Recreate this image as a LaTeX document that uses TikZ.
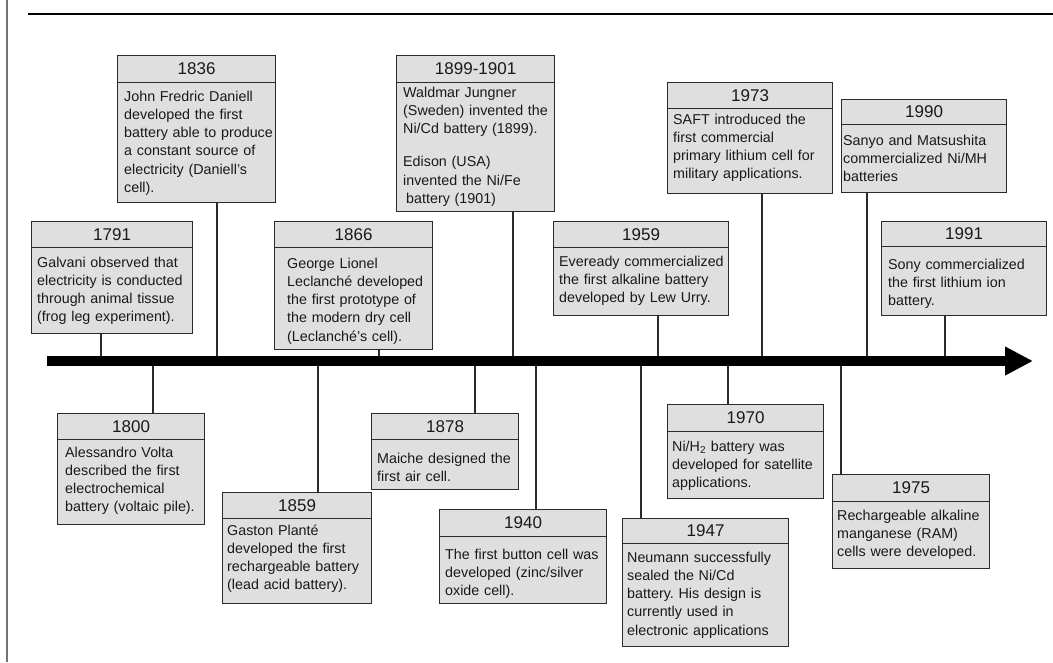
\documentclass[tikz,border=0pt]{standalone}
\usepackage{fontspec}
\setmainfont{Liberation Sans}
\usetikzlibrary{arrows.meta}

\definecolor{cardfill}{HTML}{DFDFDF}
\definecolor{cardedge}{HTML}{2B2B2B}
\frenchspacing

\begin{document}
\begin{tikzpicture}[
    x=1pt, y=-1pt,
    card/.style={draw=cardedge, fill=cardfill, line width=1.2pt, anchor=north west, inner sep=0pt},
    yearbar/.style={draw=cardedge, fill=cardfill, line width=1.2pt, anchor=north, minimum height=26pt, inner sep=0pt, text=black!90, font=\fontsize{17}{18}\selectfont},
    desc/.style={anchor=base west, inner sep=0pt, text width=170pt, align=left, text=black!90, font=\fontsize{14.3}{18.3}\selectfont},
    riser/.style={draw=cardedge, line width=1.2pt},
    timeline/.style={line width=10pt, -{Triangle[length=28pt, width=27pt]}}
]
\useasboundingbox (0,0) rectangle (1053,662);
% page rules
\draw[black!55, line width=2pt] (6.5,0) -- (6.5,662);
\draw[line width=1.5pt] (28,14) -- (1053,14);

% events above the line
\node[card, minimum width=161pt, minimum height=112pt] (e1791) at (31,221) {};
\node[yearbar, minimum width=161pt] (y1791) at (e1791.north) {1791};
\node[desc] (d1791) at (37,267) {Galvani observed that\\electricity is conducted\\through animal tissue\\(frog leg experiment).};

\node[card, minimum width=158pt, minimum height=147pt] (e1836) at (117,55) {};
\node[yearbar, minimum width=158pt, minimum height=27pt] (y1836) at (e1836.north) {1836};
\node[desc] (d1836) at (124,101) {John Fredric Daniell\\developed the first\\battery able to produce\\a constant source of\\electricity (Daniell’s\\cell).};

\node[card, minimum width=158pt, minimum height=128pt] (e1866) at (274,221) {};
\node[yearbar, minimum width=158pt] (y1866) at (e1866.north) {1866};
\node[desc] (d1866) at (287,268) {George Lionel\\Leclanché developed\\the first prototype of\\the modern dry cell\\(Leclanché’s cell).};

\node[card, minimum width=158pt, minimum height=156pt] (e1899) at (396,55) {};
\node[yearbar, minimum width=158pt, minimum height=27pt] (y1899) at (e1899.north) {1899-1901};
\node[desc] (d1899) at (403,97) {Waldmar Jungner\\(Sweden) invented the\\Ni/Cd battery (1899).\\[15pt]Edison (USA)\\invented the Ni/Fe\\\hspace*{3pt}battery (1901)};

\node[card, minimum width=175pt, minimum height=94pt] (e1959) at (553,221) {};
\node[yearbar, minimum width=175pt] (y1959) at (e1959.north) {1959};
\node[desc] (d1959) at (559,266) {Eveready commercialized\\the first alkaline battery\\developed by Lew Urry.};

\node[card, minimum width=165pt, minimum height=111pt] (e1973) at (667,82) {};
\node[yearbar, minimum width=165pt] (y1973) at (e1973.north) {1973};
\node[desc] (d1973) at (673,124) {SAFT introduced the\\first commercial\\primary lithium cell for\\military applications.};

\node[card, minimum width=165pt, minimum height=93pt] (e1990) at (841,99) {};
\node[yearbar, minimum width=165pt, minimum height=25pt] (y1990) at (e1990.north) {1990};
\node[desc] (d1990) at (843,145) {Sanyo and Matsushita\\commercialized Ni/MH\\batteries};

\node[card, minimum width=165pt, minimum height=94pt] (e1991) at (881,221) {};
\node[yearbar, minimum width=165pt, minimum height=25pt] (y1991) at (e1991.north) {1991};
\node[desc] (d1991) at (888,269) {Sony commercialized\\the first lithium ion\\battery.};

% events below the line
\node[card, minimum width=147pt, minimum height=111pt] (e1800) at (57,413) {};
\node[yearbar, minimum width=147pt] (y1800) at (e1800.north) {1800};
\node[desc] (d1800) at (65,457) {Alessandro Volta\\described the first\\electrochemical\\battery (voltaic pile).};

\node[card, minimum width=149pt, minimum height=111pt] (e1859) at (222,492) {};
\node[yearbar, minimum width=149pt] (y1859) at (e1859.north) {1859};
\node[desc] (d1859) at (227,535) {Gaston Planté\\developed the first\\rechargeable battery\\(lead acid battery).};

\node[card, minimum width=147pt, minimum height=76pt] (e1878) at (371,413) {};
\node[yearbar, minimum width=147pt] (y1878) at (e1878.north) {1878};
\node[desc] (d1878) at (377,463) {Maiche designed the\\first air cell.};

\node[card, minimum width=167pt, minimum height=94pt] (e1940) at (439,509) {};
\node[yearbar, minimum width=167pt, minimum height=27pt] (y1940) at (e1940.north) {1940};
\node[desc] (d1940) at (445,559) {The first button cell was\\developed (zinc/silver\\oxide cell).};

\node[card, minimum width=166pt, minimum height=128pt] (e1947) at (622,518) {};
\node[yearbar, minimum width=166pt, minimum height=25pt] (y1947) at (e1947.north) {1947};
\node[desc] (d1947) at (627,562) {Neumann successfully\\sealed the Ni/Cd\\battery. His design is\\currently used in\\electronic applications};

\node[card, minimum width=156pt, minimum height=94pt] (e1970) at (667,404) {};
\node[yearbar, minimum width=156pt, minimum height=27pt] (y1970) at (e1970.north) {1970};
\node[desc] (d1970) at (672,451) {Ni/H\textsubscript{2} battery was\\developed for satellite\\applications.};

\node[card, minimum width=157pt, minimum height=94pt] (e1975) at (832,474) {};
\node[yearbar, minimum width=157pt, minimum height=27pt] (y1975) at (e1975.north) {1975};
\node[desc] (d1975) at (837,520) {Rechargeable alkaline\\manganese (RAM)\\cells were developed.};

% points on the time line
\coordinate (t1791) at (101,361);
\coordinate (t1836) at (217,361);
\coordinate (t1866) at (379,361);
\coordinate (t1899) at (513,361);
\coordinate (t1959) at (658,361);
\coordinate (t1973) at (762,361);
\coordinate (t1990) at (867,361);
\coordinate (t1991) at (945,361);
\coordinate (t1800) at (153,361);
\coordinate (t1859) at (318,361);
\coordinate (t1878) at (475,361);
\coordinate (t1940) at (536,361);
\coordinate (t1947) at (641,361);
\coordinate (t1970) at (728,361);
\coordinate (t1975) at (841,361);

\draw[riser] (e1791.south -| t1791) -- (t1791);
\draw[riser] (e1836.south -| t1836) -- (t1836);
\draw[riser] (e1866.south -| t1866) -- (t1866);
\draw[riser] (e1899.south -| t1899) -- (t1899);
\draw[riser] (e1959.south -| t1959) -- (t1959);
\draw[riser] (e1973.south -| t1973) -- (t1973);
\draw[riser] (e1990.south -| t1990) -- (t1990);
\draw[riser] (e1991.south -| t1991) -- (t1991);
\draw[riser] (y1800.north -| t1800) -- (t1800);
\draw[riser] (y1859.north -| t1859) -- (t1859);
\draw[riser] (y1878.north -| t1878) -- (t1878);
\draw[riser] (y1940.north -| t1940) -- (t1940);
\draw[riser] (y1947.north -| t1947) -- (t1947);
\draw[riser] (y1970.north -| t1970) -- (t1970);
\draw[riser] (y1975.north -| t1975) -- (t1975);

% the time line
\coordinate (tstart) at (47,361);
\coordinate (tend) at (1033,361);
\draw[timeline] (tstart) -- (tend);
\end{tikzpicture}
\end{document}
